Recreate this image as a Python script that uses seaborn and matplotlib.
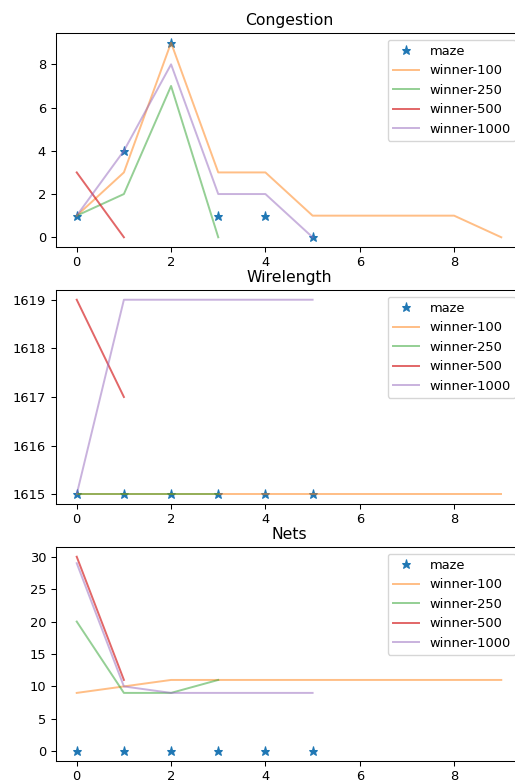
import matplotlib
matplotlib.use("Agg")
import matplotlib.pyplot as plt
import seaborn as sns
import numpy as np

series_names = ["maze", "winner-100", "winner-250", "winner-500", "winner-1000"]

congestion_maze = [1, 4, 9, 1, 1, 0]
congestion_w100 = [1, 3, 9, 3, 3, 1, 1, 1, 1, 0]
congestion_w250 = [1, 2, 7, 0]
congestion_w500 = [3, 0]
congestion_w1000 = [1, 4, 8, 2, 2, 0]

wirelength_maze = [1615, 1615, 1615, 1615, 1615, 1615]
wirelength_w100 = [1615, 1615, 1615, 1615, 1615, 1615, 1615, 1615, 1615, 1615]
wirelength_w250 = [1615, 1615, 1615, 1615]
wirelength_w500 = [1619, 1617]
wirelength_w1000 = [1615, 1619, 1619, 1619, 1619, 1619]

nets_maze = [0, 0, 0, 0, 0, 0]
nets_w100 = [9, 10, 11, 11, 11, 11, 11, 11, 11, 11]
nets_w250 = [20, 9, 9, 11]
nets_w500 = [30, 11]
nets_w1000 = [29, 10, 9, 9, 9, 9]

titles = ["Congestion", "Wirelength", "Nets"]
panels = [
    [congestion_maze, congestion_w100, congestion_w250, congestion_w500, congestion_w1000],
    [wirelength_maze, wirelength_w100, wirelength_w250, wirelength_w500, wirelength_w1000],
    [nets_maze, nets_w100, nets_w250, nets_w500, nets_w1000],
]

colors = ["#1f77b4", "#ff7f0e", "#2ca02c", "#d62728", "#9467bd"]
alphas = [1.0, 0.5, 0.5, 0.7, 0.5]

s = 0.94
plt.rcParams["font.size"] = 10 * s
plt.rcParams["axes.linewidth"] = 0.8 * s
plt.rcParams["xtick.major.width"] = 0.8 * s
plt.rcParams["ytick.major.width"] = 0.8 * s
plt.rcParams["xtick.major.size"] = 3.5 * s
plt.rcParams["ytick.major.size"] = 3.5 * s

fig = plt.figure(figsize=(5.15, 7.8), dpi=100)
left = 55.5 / 515
width = 467 / 515
bottoms = [1 - 247 / 780, 1 - 504 / 780, 1 - 761 / 780]
height = 214 / 780

for i, (title, data) in enumerate(zip(titles, panels)):
    ax = fig.add_axes([left, bottoms[i], width, height])
    for j, (name, ys) in enumerate(zip(series_names, data)):
        xs = np.arange(len(ys))
        if j == 0:
            sns.lineplot(x=xs, y=ys, ax=ax, color=colors[j], marker="*",
                         linestyle="", markersize=6.5, markeredgecolor=colors[j],
                         label=name)
        else:
            sns.lineplot(x=xs, y=ys, ax=ax, color=colors[j], alpha=alphas[j],
                         linewidth=1.5 * s, label=name)
    ax.set_title(title, fontsize=12 * s)
    ax.set_xticks([0, 2, 4, 6, 8])
    ax.set_xlim(-0.45, 9.45)
    ax.legend(loc="upper right", fontsize=10 * s)
    ax.ticklabel_format(useOffset=False, axis="y")

fig.savefig("out.png", dpi=100)
